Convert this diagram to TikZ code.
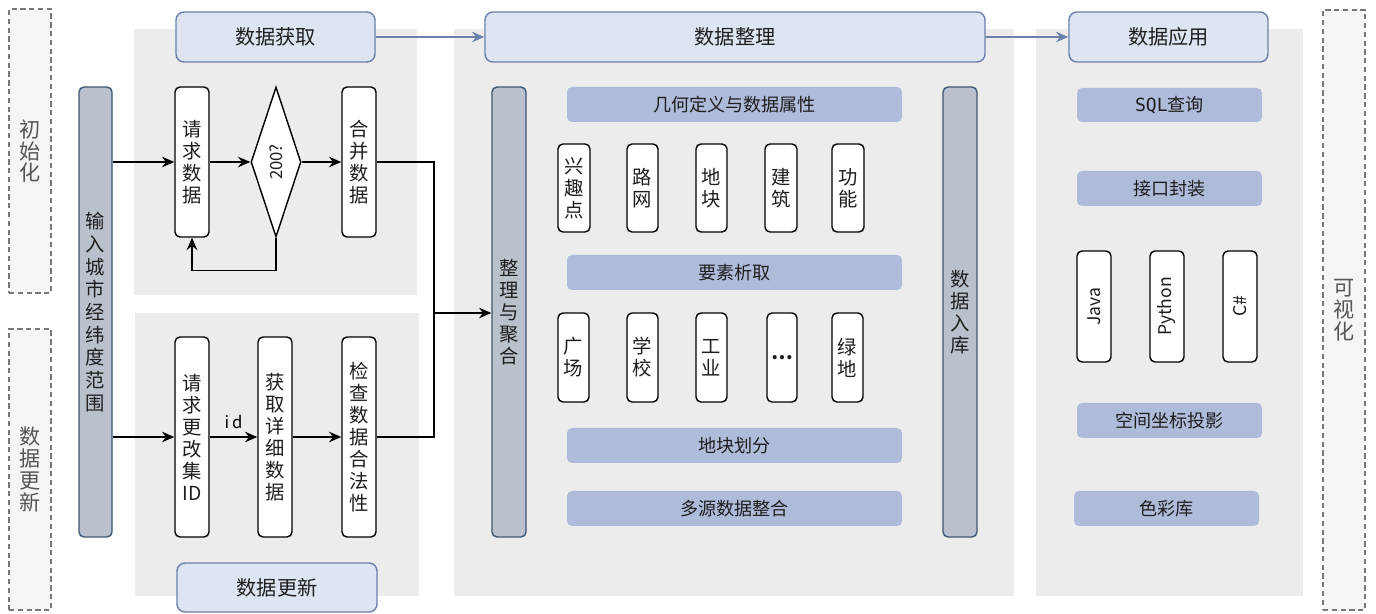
\documentclass[tikz,border=0pt]{standalone}
\usepackage{fontspec}
\usepackage{graphicx}
\newfontfamily\cjk{Noto Sans CJK SC}
\newfontfamily\mono{DejaVu Sans Mono}
\usetikzlibrary{shapes.geometric,arrows.meta}
\definecolor{panelgray}{RGB}{236,236,236}
\definecolor{dashfill}{RGB}{245,245,245}
\definecolor{dashc}{RGB}{120,120,120}
\definecolor{labc}{RGB}{85,85,85}
\definecolor{headfill}{RGB}{221,229,243}
\definecolor{headdraw}{RGB}{108,128,171}
\definecolor{bandfill}{RGB}{174,188,218}
\definecolor{barfill}{RGB}{185,193,204}
\definecolor{bardraw}{RGB}{60,88,115}
\definecolor{arrowblue}{RGB}{108,128,171}
\definecolor{txt}{RGB}{30,30,30}
\tikzset{
  rect/.style n args={4}{at={({(#1+#3)/2},{(#2+#4)/2})}, minimum width={(#3-#1)*0.02cm}, minimum height={(#4-#2)*0.02cm}, anchor=center},
  panel/.style={fill=panelgray, draw=none, inner sep=0pt},
  dashbox/.style={draw=dashc, dash pattern=on 3pt off 2pt, line width=0.6pt, fill=dashfill, inner sep=0pt, text=labc, align=center, font=\cjk\fontsize{12}{12.4}\selectfont},
  head/.style={draw=headdraw, fill=headfill, rounded corners=0.16cm, line width=0.8pt, inner sep=0pt, font=\cjk\fontsize{11.5}{12}\selectfont},
  band/.style={fill=bandfill, rounded corners=0.1cm, inner sep=0pt, font=\cjk\fontsize{10.3}{12}\selectfont},
  bar/.style={fill=barfill, draw=bardraw, line width=0.8pt, rounded corners=0.1cm, inner sep=0pt, align=center},
  box/.style={draw=black, fill=white, line width=0.8pt, rounded corners=0.1cm, inner sep=0pt, align=center},
  arr/.style={-{Stealth[length=7pt,width=6pt]}, line width=0.7pt, black},
  barr/.style={-{Stealth[length=7pt,width=6pt]}, line width=0.8pt, arrowblue},
}
\begin{document}
\begin{tikzpicture}[x=0.02cm, y=-0.02cm, font=\cjk\fontsize{11}{12.5}\selectfont, text=txt]
\useasboundingbox (0,0) rectangle (1376,614);

% dashed side boxes
\node[dashbox, rect={9}{9}{51}{293}] (dA) {初\\始\\化};
\node[dashbox, rect={9}{329}{51}{610}] (dB) {数\\据\\更\\新};
\node[dashbox, rect={1323}{10}{1365}{610}] (dC) {可\\视\\化};

% panels
\node[panel, rect={134}{29}{417}{295}] (p1) {};
\node[panel, rect={135}{313}{419}{596}] (p2) {};
\node[panel, rect={454}{29}{1014}{596}] (p3) {};
\node[panel, rect={1036}{29}{1303}{596}] (p4) {};

% headers
\node[head, rect={176}{12}{375}{62}] (h1) {数据获取};
\node[head, rect={177}{563}{377}{612}] (h2) {数据更新};
\node[head, rect={485}{12}{985}{62}] (h3) {数据整理};
\node[head, rect={1069}{12}{1268}{62}] (h4) {数据应用};
\draw[barr] (h1.east) -- (h3.west);
\draw[barr] (h3.east) -- (h4.west);

% vertical bars
\node[bar, rect={79}{87}{112}{537}, font=\cjk\fontsize{11}{12.9}\selectfont] (in) {输\\入\\城\\市\\经\\纬\\度\\范\\围};
\node[bar, rect={492}{87}{526}{537}] (zl) {整\\理\\与\\聚\\合};
\node[bar, rect={943}{87}{977}{537}] (rk) {数\\据\\入\\库};

% acquisition row
\node[box, rect={175}{87}{209}{237}] (r1) {请\\求\\数\\据};
\node[diamond, draw=black, fill=white, line width=0.8pt, inner sep=0pt,
      minimum width=1cm, minimum height=3cm, font=\cjk\fontsize{9.5}{10}\selectfont] (dm) at (276,162) {\rotatebox{90}{200?}};
\node[box, rect={342}{87}{376}{237}] (r3) {合\\并\\数\\据};

% update row
\node[box, rect={175}{337}{209}{537}] (u1) {请\\求\\更\\改\\集\\ID};
\node[box, rect={258}{337}{292}{537}] (u2) {获\\取\\详\\细\\数\\据};
\node[box, rect={342}{337}{376}{537}] (u3) {检\\查\\数\\据\\合\\法\\性};

\coordinate (j) at (434,313);
\draw[arr] (in.east |- r1.west) -- (r1.west);
\draw[arr] (r1.east) -- (dm.west);
\draw[arr] (dm.east) -- (r3.west);
\draw[arr] (dm.south) -- ++(0,33) -| (r1.south);
\draw[arr] (r3.east) -| (j) -- (zl.west |- j);
\draw[line width=0.7pt] (u3.east) -| (j);
\draw[arr] (in.east |- u1.west) -- (u1.west);
\draw[arr] (u1.east) -- node[above, font=\cjk\fontsize{9.5}{10}\selectfont, yshift=1pt] {i\,d} (u2.west);
\draw[arr] (u2.east) -- (u3.west);

% middle panel
\node[band, rect={567}{87}{902}{122}] (b1) {几何定义与数据属性};
\node[band, rect={567}{255}{902}{290}] (b2) {要素析取};
\node[band, rect={567}{428}{902}{463}] (b3) {地块划分};
\node[band, rect={567}{491}{902}{526}] (b4) {多源数据整合};

\node[box, rect={558}{144}{590}{232}] (m1) {兴\\趣\\点};
\node[box, rect={627}{144}{658}{232}] (m2) {路\\网};
\node[box, rect={696}{144}{727}{232}] (m3) {地\\块};
\node[box, rect={765}{144}{797}{232}] (m4) {建\\筑};
\node[box, rect={832}{144}{864}{232}] (m5) {功\\能};

\node[box, rect={558}{313}{589}{402}] (n1) {广\\场};
\node[box, rect={627}{313}{658}{402}] (n2) {学\\校};
\node[box, rect={696}{313}{727}{402}] (n3) {工\\业};
\node[box, rect={767}{313}{797}{402}, font=\cjk\bfseries\fontsize{11}{12}\selectfont] (n4) {…};
\node[box, rect={832}{313}{863}{402}] (n5) {绿\\地};

% right panel
\node[band, rect={1077}{88}{1262}{122}] (s1) {{\mono SQL}查询};
\node[band, rect={1077}{171}{1262}{206}] (s2) {接口封装};
\node[box, rect={1077}{251}{1111}{362}, font=\cjk\fontsize{10}{10}\selectfont] (l1) {\rotatebox{90}{Java}};
\node[box, rect={1150}{251}{1184}{362}, font=\cjk\fontsize{10}{10}\selectfont] (l2) {\rotatebox{90}{Python}};
\node[box, rect={1223}{251}{1257}{362}, font=\cjk\fontsize{10}{10}\selectfont] (l3) {\rotatebox{90}{C\#}};
\node[band, rect={1077}{403}{1262}{438}] (s3) {空间坐标投影};
\node[band, rect={1074}{491}{1259}{526}] (s4) {色彩库};
\end{tikzpicture}
\end{document}
